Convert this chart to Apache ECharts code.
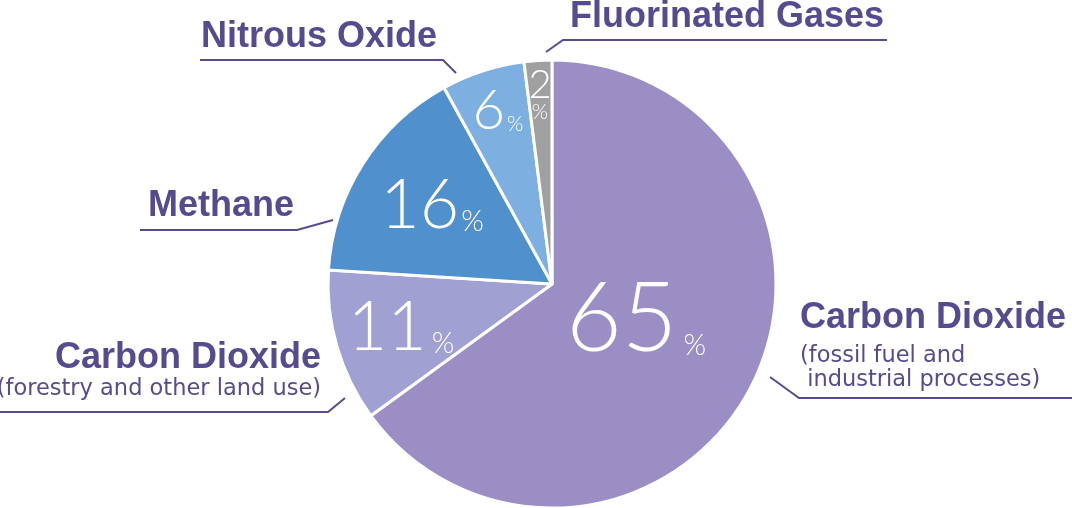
<!DOCTYPE html>
<html><head><meta charset="utf-8">
<script src="https://cdn.jsdelivr.net/npm/echarts@6/dist/echarts.min.js"></script>
<style>html,body{margin:0;padding:0;background:#fff}#c{width:1072px;height:508px}</style>
</head><body><div id="c"></div>
<script>
// ---- data ----
const categories = ['Carbon Dioxide', 'Carbon Dioxide', 'Methane', 'Nitrous Oxide', 'Fluorinated Gases'];
const notes = ['(fossil fuel and\n industrial processes)', '(forestry and other land use)', '', '', ''];
const shares = [65, 11, 16, 6, 2];
const unit = '%';

// ---- style / layout ----
const colors = ['#9b8ec4', '#a1a0d2', '#5090cc', '#7db0e0', '#a0a0a0'];
const INK = '#574b90';
const pctLayout = [
  {x: 636, y: 320, n: 96, p: 29, gap: 6},
  {x: 401, y: 328, n: 68, p: 29, gap: 5},
  {x: 432, y: 206, n: 68, p: 29, gap: 2},
  {x: 498, y: 111, n: 56, p: 21, gap: 2},
  {x: 540, y: 99.5, n: 40, p: 21, stack: true}
];
const nameLayout = [
  {x: 800, y: 342, align: 'left', lt: 52, ls: 24, line: [[770, 377], [799, 398], [1072, 398]]},
  {x: 321, y: 371, align: 'right', lt: 37, ls: 25, line: [[345, 398], [328, 412], [0, 412]]},
  {x: 294, y: 206, align: 'right', lt: 40, ls: 24, line: [[333, 220], [297, 230], [140, 230]]},
  {x: 201, y: 37, align: 'left', lt: 40, ls: 24, line: [[456, 73], [443, 60], [200, 60]]},
  {x: 570, y: 17, align: 'left', lt: 40, ls: 24, line: [[546, 52], [563, 40], [887, 40]]}
];

const chart = echarts.init(document.getElementById('c'), null, {renderer: 'canvas'});

const pctData = shares.map((v, i) => {
  const L = pctLayout[i];
  const pb = L.stack ? 0 : Math.round(0.113 * (L.n - L.p));
  return {
    value: v, name: categories[i],
    itemStyle: {color: colors[i]},
    label: {
      formatter: L.stack ? '{n|' + v + '}\n{p|' + unit + '}' : '{n|' + v + '}{p|' + unit + '}',
      rich: {
        n: {fontFamily: 'Lato', fontWeight: 300, fontSize: L.n, lineHeight: L.stack ? 29 : L.n, color: '#fff', verticalAlign: 'bottom'},
        p: {fontFamily: 'Lato', fontWeight: 300, fontSize: L.p, lineHeight: L.stack ? 17 : L.p, color: '#fff', verticalAlign: 'bottom',
            padding: L.stack ? 0 : [0, 0, pb, L.gap]}
      }
    }
  };
});

const nameData = shares.map((v, i) => {
  const L = nameLayout[i];
  let text = '{t|' + categories[i] + '}';
  if (notes[i]) text += '\n' + notes[i].split('\n').map(s => '{s|' + s + '}').join('\n');
  return {
    value: v, name: categories[i],
    label: {
      formatter: text,
      rich: {
        t: {fontFamily: 'Liberation Sans', fontWeight: 'bold', fontSize: 36, lineHeight: L.lt, color: INK},
        s: {fontFamily: 'DejaVu Sans', fontSize: 22.5, lineHeight: L.ls, color: INK}
      }
    }
  };
});

chart.setOption({
  animation: false,
  backgroundColor: '#fff',
  series: [
    {
      type: 'pie', center: [552, 284], radius: 224, startAngle: 90, clockwise: true,
      avoidLabelOverlap: false, silent: true,
      itemStyle: {borderColor: '#fff', borderWidth: 3},
      label: {show: true, position: 'inside'},
      labelLine: {show: false},
      labelLayout: function (p) {
        const L = pctLayout[p.dataIndex];
        return {x: L.x, y: L.y, align: 'center', verticalAlign: 'middle'};
      },
      data: pctData
    },
    {
      type: 'pie', center: [552, 284], radius: 224, startAngle: 90, clockwise: true,
      avoidLabelOverlap: false, silent: true, z: 3,
      itemStyle: {color: 'rgba(0,0,0,0)', borderWidth: 0},
      label: {show: true, position: 'outside'},
      labelLine: {show: true, length: 10, length2: 10, smooth: false, lineStyle: {color: INK, width: 2}},
      labelLayout: function (p) {
        const L = nameLayout[p.dataIndex];
        return {x: L.x, y: L.y, align: L.align, verticalAlign: 'middle', labelLinePoints: L.line};
      },
      data: nameData
    }
  ]
});
</script>
</body></html>
